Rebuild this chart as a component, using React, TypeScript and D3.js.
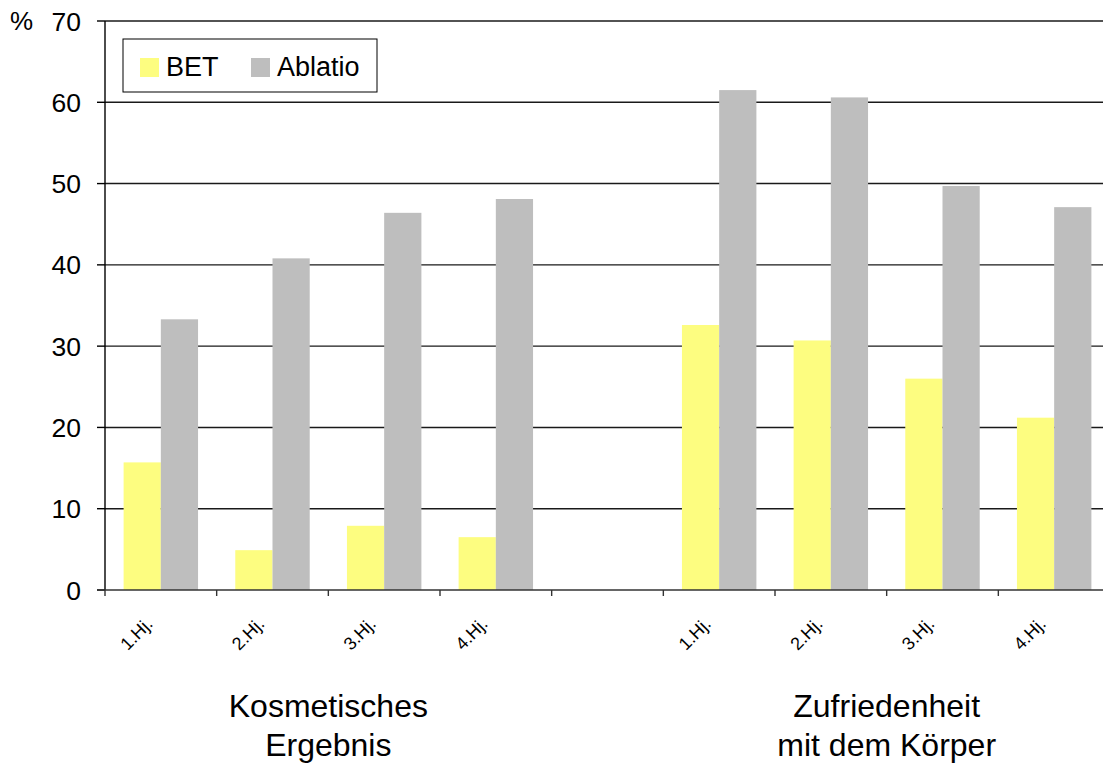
import React from "react";
import * as d3 from "d3";

// slots: 4 half-years, empty gap, 4 half-years
const slots = ["k1", "k2", "k3", "k4", "gap", "z1", "z2", "z3", "z4"];
const slotLabels = ["1.Hj.", "2.Hj.", "3.Hj.", "4.Hj.", "", "1.Hj.", "2.Hj.", "3.Hj.", "4.Hj."];
const series = ["BET", "Ablatio"];
const betValues = [15.7, 4.9, 7.9, 6.5, null, 32.6, 30.7, 26.0, 21.2];
const ablatioValues = [33.3, 40.8, 46.4, 48.1, null, 61.5, 60.6, 49.7, 47.1];
const yTicks = [0, 10, 20, 30, 40, 50, 60, 70];
const groupLabels = [
  { from: 0, to: 3, lines: ["Kosmetisches", "Ergebnis"] },
  { from: 5, to: 8, lines: ["Zufriedenheit", "mit dem Körper"] },
];
const colors = ["#FDFD80", "#BEBEBE"];

export default function App() {
  const width = 1103;
  const height = 763;
  const left = 105;
  const right = 1110;
  const top = 21;
  const bottom = 590;

  const x = d3.scaleBand<string>().domain(slots).range([left, right]).padding(0);
  const inner = d3
    .scaleBand<string>()
    .domain(series)
    .range([0, x.bandwidth()])
    .paddingInner(0)
    .paddingOuter(0.5);
  const y = d3.scaleLinear().domain([0, 70]).range([bottom, top]);

  const font = "'Liberation Sans', Arial, sans-serif";
  const valuesBySeries = [betValues, ablatioValues];

  return (
    <svg width={width} height={height} style={{ position: "absolute", left: 0, top: 0 }} fontFamily={font}>
      <rect x={0} y={0} width={width} height={height} fill="#fff" />

      {/* gridlines behind the bars */}
      {yTicks.slice(1).map((t) => (
        <line key={t} x1={left} x2={right} y1={y(t)} y2={y(t)} stroke="#1a1a1a" strokeWidth={1.4} />
      ))}

      {/* bars */}
      {series.map((s, si) =>
        slots.map((slot, i) => {
          const v = valuesBySeries[si][i];
          if (v == null) return null;
          return (
            <rect
              key={s + slot}
              x={(x(slot) ?? 0) + (inner(s) ?? 0)}
              y={y(v)}
              width={inner.bandwidth()}
              height={y(0) - y(v)}
              fill={colors[si]}
            />
          );
        })
      )}

      {/* y axis */}
      <line x1={left} x2={left} y1={top} y2={bottom} stroke="#000" strokeWidth={1.4} />
      {yTicks.map((t) => (
        <g key={t}>
          <line x1={left - 8} x2={left} y1={y(t)} y2={y(t)} stroke="#000" strokeWidth={1.4} />
          <text x={81} y={y(t)} dy="0.36em" textAnchor="end" fontSize={26.5}>
            {t}
          </text>
        </g>
      ))}
      <text x={10} y={y(70)} dy="0.36em" fontSize={26}>%</text>

      {/* x axis */}
      <line x1={left - 8} x2={right} y1={bottom} y2={bottom} stroke="#333" strokeWidth={1.4} />
      {slots.map((slot) => (
        <line
          key={slot}
          x1={x(slot) ?? 0}
          x2={x(slot) ?? 0}
          y1={bottom}
          y2={bottom + 6}
          stroke="#333"
          strokeWidth={1.4}
        />
      ))}
      {slots.map((slot, i) => {
        const cx = (x(slot) ?? 0) + x.bandwidth() / 2 - 7;
        const cy = 625;
        return (
          <text
            key={"l" + slot}
            x={cx}
            y={cy}
            fontSize={18}
            textAnchor="end"
            transform={`rotate(-45, ${cx}, ${cy})`}
          >
            {slotLabels[i]}
          </text>
        );
      })}

      {/* group labels */}
      {groupLabels.map((g) => {
        const cx = ((x(slots[g.from]) ?? 0) + (x(slots[g.to]) ?? 0) + x.bandwidth()) / 2;
        return (
          <text key={g.lines[0]} x={cx} textAnchor="middle" fontSize={32}>
            {g.lines.map((ln, k) => (
              <tspan key={k} x={cx} y={717 + k * 39}>
                {ln}
              </tspan>
            ))}
          </text>
        );
      })}

      {/* legend */}
      <rect x={123} y={39} width={254} height={53} fill="#fff" stroke="#000" strokeWidth={1} />
      {series.map((s, si) => {
        const lx = [140, 251][si];
        return (
          <g key={s}>
            <rect x={lx} y={58} width={19} height={19} fill={colors[si]} />
            <text x={lx + 26} y={76} fontSize={27}>
              {s}
            </text>
          </g>
        );
      })}
    </svg>
  );
}
